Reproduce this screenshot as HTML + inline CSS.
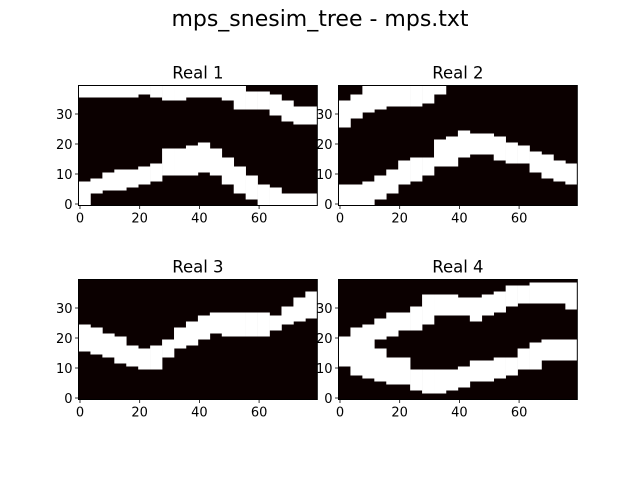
<!DOCTYPE html>
<html><head><meta charset="utf-8"><style>
body{margin:0;background:#fff}
svg{display:block;font-family:"DejaVu Sans","Liberation Sans",sans-serif}
</style></head><body>
<svg id="fig" width="640" height="480" viewBox="0 0 640 480">
<rect width="640" height="480" fill="#fff"/>
<text x="320" y="26" text-anchor="middle" font-size="22" fill="#000">mps_snesim_tree - mps.txt</text>
</svg>
<script>
// Sample columns (each sample covers 4 grid columns)
const sampleCols = [0,4,8,12,16,20,24,28,32,36,40,44,48,52,56,60,64,68,72,76];
const xTicks = [0,20,40,60];
const yTicks = [0,10,20,30];
const titles = ["Real 1","Real 2","Real 3","Real 4"];
// White channel bands: lower row (inclusive) and upper row (exclusive) per sample
const r1TopLo = [36,36,36,36,36,37,36,35,35,36,36,36,35,32,32,32,30,28,27,27];
const r1TopHi = [40,40,40,40,40,40,40,40,40,40,40,40,40,40,38,38,37,35,33,33];
const r1BotLo = [0,4,5,5,6,7,8,10,10,10,11,10,7,4,2,0,0,0,0,0];
const r1BotHi = [8,9,11,12,12,13,14,19,19,20,21,19,16,13,10,7,6,4,4,4];
const r2TopLo = [26,29,31,32,33,33,33,34,37,40,40,40,40,40,40,40,40,40,40,40];
const r2TopHi = [35,37,40,40,40,40,40,40,40,40,40,40,40,40,40,40,40,40,40,40];
const r2BotLo = [0,0,0,2,4,7,8,10,13,13,16,17,17,15,14,14,11,9,8,7];
const r2BotHi = [7,7,8,10,12,15,16,16,22,23,25,24,24,23,21,20,18,17,15,14];
const r3Lo = [16,15,14,12,11,10,10,14,17,18,20,22,21,21,21,21,23,25,26,27];
const r3Hi = [25,24,22,21,18,17,18,20,24,26,28,29,29,29,29,29,28,31,34,36];
const r4TopLo = [16,16,16,20,21,23,23,25,28,28,28,26,28,29,31,32,32,32,32,30];
const r4TopHi = [21,24,25,27,29,29,31,35,35,35,34,34,35,36,38,38,39,39,39,39];
const r4BotLo = [11,8,7,6,5,5,3,2,2,3,4,6,6,7,8,10,10,13,13,13];
const r4BotHi = [16,16,16,17,14,14,10,10,10,10,11,13,13,14,14,17,19,20,20,20];

const bands = [
  [[r1TopLo,r1TopHi],[r1BotLo,r1BotHi]],
  [[r2TopLo,r2TopHi],[r2BotLo,r2BotHi]],
  [[r3Lo,r3Hi]],
  [[r4TopLo,r4TopHi],[r4BotLo,r4BotHi]]
];
const NS="http://www.w3.org/2000/svg";
const svg=document.getElementById('fig');
const NX=80, NY=40, CW=2.985, CH=3.0;
const origins=[[78.5,85.5],[338.5,85.5],[78.5,279.5],[338.5,279.5]];
function mk(tag,attrs,parent){const e=document.createElementNS(NS,tag);for(const k in attrs)e.setAttribute(k,attrs[k]);(parent||svg).appendChild(e);return e;}

origins.forEach((o,i)=>{
  const L=o[0],T=o[1],W=NX*CW,H=NY*CH;
  const colX=c=>L+c*CW;
  const rowY=r=>T+H-r*CH;
  const tickX=v=>L+(v+0.5)*CW;
  const tickY=v=>T+H-(v+0.5)*CH;
  const g=mk('g',{});
  
  
  const bg=mk('rect',{x:L,y:T,width:W,height:H,fill:'#0b0000'},g);
  
  
  bands[i].forEach((b,bi)=>{
    sampleCols.forEach((c,k)=>{
      const lo=b[0][k], hi=b[1][k];
      if(hi<=lo) return;
      const r=mk('rect',{x:colX(c),y:rowY(hi),width:CW*4+0.3,height:(hi-lo)*CH,fill:'#fff'},g);
      
      
    });
  });
  const fr=mk('rect',{x:L,y:T,width:W,height:H,fill:'none',stroke:'#000','stroke-width':1},g);
  
  
  const t=mk('text',{x:L+W/2,y:T-7,'text-anchor':'middle','font-size':16.5,fill:'#000'},g);
  t.textContent=titles[i];
  
  
  xTicks.forEach(v=>{
    const x=tickX(v);
    mk('line',{x1:x,y1:T+H,x2:x,y2:T+H+3.5,stroke:'#000','stroke-width':0.8},g);
    const tl=mk('text',{x:x,y:T+H+17,'text-anchor':'middle','font-size':13,fill:'#000'},g);
    tl.textContent=v;
    
    
  });
  yTicks.forEach(v=>{
    const y=tickY(v);
    mk('line',{x1:L,y1:y,x2:L-3.5,y2:y,stroke:'#000','stroke-width':0.8},g);
    const tl=mk('text',{x:L-6,y:y+5,'text-anchor':'end','font-size':13,fill:'#000'},g);
    tl.textContent=v;
    
    
  });
});
</script>
</body></html>
